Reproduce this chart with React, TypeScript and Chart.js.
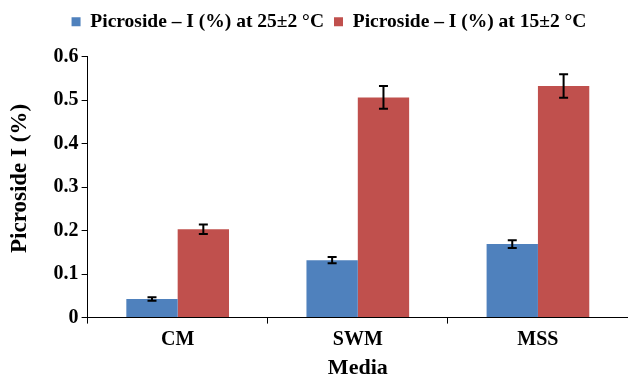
import React, { useEffect, useRef } from "react";
import { Chart, registerables } from "chart.js";

Chart.register(...registerables);

const categories = ["CM", "SWM", "MSS"];
const series25 = [0.043, 0.132, 0.169];
const series15 = [0.203, 0.506, 0.532];
const err25 = [0.004, 0.007, 0.009];
const err15 = [0.011, 0.026, 0.027];
const yTicks = [0, 0.1, 0.2, 0.3, 0.4, 0.5, 0.6];
const label25 = "Picroside – I (%) at 25±2 °C";
const label15 = "Picroside – I (%) at 15±2 °C";
const yTitle = "   Picroside I (%)";
const xTitle = "Media";

const errors = [err25, err15];

const errorBarPlugin = {
  id: "errorBars",
  afterDatasetsDraw(chart: any) {
    const ctx = chart.ctx;
    const y = chart.scales.y;
    chart.data.datasets.forEach((ds: any, di: number) => {
      const meta = chart.getDatasetMeta(di);
      meta.data.forEach((bar: any, i: number) => {
        const v = ds.data[i];
        const e = errors[di][i];
        const x = bar.x;
        const top = y.getPixelForValue(v + e);
        const bot = y.getPixelForValue(v - e);
        ctx.save();
        ctx.strokeStyle = "#000";
        ctx.lineWidth = 2;
        ctx.beginPath();
        ctx.moveTo(x, top);
        ctx.lineTo(x, bot);
        ctx.moveTo(x - 4.5, top);
        ctx.lineTo(x + 4.5, top);
        ctx.moveTo(x - 4.5, bot);
        ctx.lineTo(x + 4.5, bot);
        ctx.stroke();
        ctx.restore();
      });
    });
  },
};

const legendShift = {
  id: "legendShift",
  beforeDraw(chart: any) {
    const lg = chart.legend;
    if (lg) {
      const h = lg.bottom - lg.top;
      lg.left = 30;
      lg.right = 628;
      lg.top = 2;
      lg.bottom = 2 + h;
    }
  },
};

export default function App() {
  const ref = useRef<HTMLCanvasElement>(null);
  useEffect(() => {
    document.body.style.margin = "0";
    const font = "'Liberation Serif', 'Times New Roman', serif";
    const chart = new Chart(ref.current!, {
      type: "bar",
      data: {
        labels: categories,
        datasets: [
          { label: label25, data: series25, backgroundColor: "#4F81BD", categoryPercentage: 0.57, barPercentage: 1 },
          { label: label15, data: series15, backgroundColor: "#C0504D", categoryPercentage: 0.57, barPercentage: 1 },
        ],
      },
      options: {
        animation: false,
        responsive: false,
        layout: { padding: { left: 0, right: -2, top: 17, bottom: -7 } },
        plugins: {
          legend: {
            position: "top",
            labels: {
              font: { family: font, size: 19.5, weight: "bold" },
              color: "#000",
              boxWidth: 9,
              boxHeight: 9,
              padding: 10,
            },
          },
          tooltip: { enabled: false },
        },
        scales: {
          x: {
            grid: { display: true, drawOnChartArea: false, color: "#000", tickLength: 6, lineWidth: 1 },
            border: { color: "#000", width: 1 },
            ticks: { color: "#000", font: { family: font, size: 20, weight: "bold" }, padding: 4 },
            title: { display: true, text: xTitle, color: "#000", font: { family: font, size: 22, weight: "bold" }, padding: { top: 0, bottom: 2 } },
          },
          y: {
            min: 0,
            max: 0.6,
            afterBuildTicks: (axis: any) => {
              axis.ticks = yTicks.map((v) => ({ value: v }));
            },
            grid: { display: true, drawOnChartArea: false, color: "#000", tickLength: 6 },
            border: { color: "#000", width: 1 },
            ticks: { color: "#000", font: { family: font, size: 20, weight: "bold" }, padding: 3 },
            title: { display: true, text: yTitle, color: "#000", font: { family: font, size: 23, weight: "bold" }, padding: { top: 6, bottom: 17 } },
          },
        },
      },
      plugins: [errorBarPlugin, legendShift],
    });
    return () => chart.destroy();
  }, []);
  return <canvas ref={ref} width={628} height={377} style={{ display: "block" }} />;
}
